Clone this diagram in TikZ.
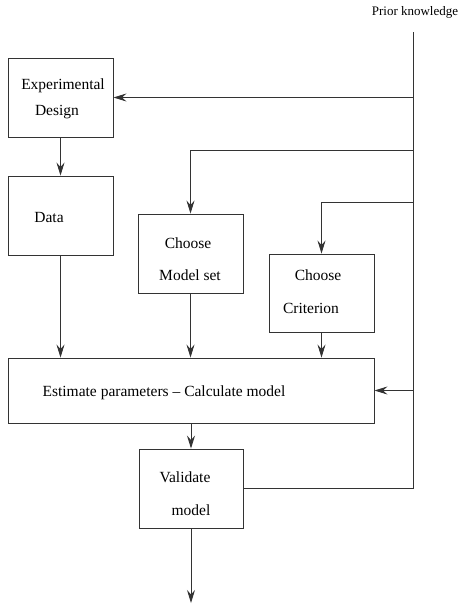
\documentclass[tikz,border=0pt]{standalone}
\usepackage{fontspec}
\setmainfont{Liberation Serif}
\usetikzlibrary{arrows.meta}
\tikzset{
    box/.style={draw=black!80, line width=0.9pt, rectangle, inner sep=0pt},
    arr/.style={draw=black!80, line width=0.9pt, -{Stealth[length=13pt,width=8pt,inset=4.5pt]}},
    wire/.style={draw=black!80, line width=0.9pt},
    lbl/.style={inner sep=0pt, font=\fontsize{15.5}{18}\selectfont},
}
\begin{document}
\begin{tikzpicture}[x=1pt,y=-1pt]
    \useasboundingbox (0,0) rectangle (461,605);

    % boxes
    \node[box, minimum width=105pt, minimum height=79pt] (exp) at (60.5,97.5) {};
    \node[box, minimum width=105pt, minimum height=79pt] (data) at (60.5,215.5) {};
    \node[box, minimum width=105pt, minimum height=79pt] (model) at (190.5,253.5) {};
    \node[box, minimum width=105pt, minimum height=78pt] (crit) at (321.5,293) {};
    \node[box, minimum width=366pt, minimum height=65pt] (est) at (191,390.5) {};
    \node[box, minimum width=104pt, minimum height=79pt] (val) at (191,488.5) {};

    % texts
    \node[lbl] (expA) at (63,86) {Experimental};
    \node[lbl] (expB) at (57,112) {Design};
    \node[lbl] (dataA) at (49,217) {Data};
    \node[lbl] (modelA) at (188,243) {Choose};
    \node[lbl] (modelB) at (190,275) {Model set};
    \node[lbl] (critA) at (318,275) {Choose};
    \node[lbl] (critB) at (311,308) {Criterion};
    \node[lbl] (estA) at (164,393) {Estimate parameters -- Calculate model};
    \node[lbl] (valA) at (185,477) {Validate};
    \node[lbl] (valB) at (191,510) {model};
    \node[inner sep=0pt, font=\fontsize{13}{15}\selectfont] (prior) at (415,12) {Prior knowledge};

    \coordinate (top) at (413,32);
    \coordinate (bm) at (413,150);
    \coordinate (bc) at (413,202);
    \coordinate (out) at (191,603);

    % prior knowledge line
    \draw[wire] (top) -- (top |- val.east) -- (val.east);
    \draw[arr] (top |- exp.east) -- (exp.east);
    \draw[arr] (bm) -| (model.north);
    \draw[arr] (bc) -| (crit.north);
    \draw[arr] (top |- est.east) -- (est.east);

    % main flow
    \draw[arr] (exp.south) -- (data.north);
    \draw[arr] (data.south) -- (data.south |- est.north);
    \draw[arr] (model.south) -- (model.south |- est.north);
    \draw[arr] (crit.south) -- (crit.south |- est.north);
    \draw[arr] (est.south) -- (val.north);
    \draw[arr] (val.south) -- (out);
\end{tikzpicture}
\end{document}
